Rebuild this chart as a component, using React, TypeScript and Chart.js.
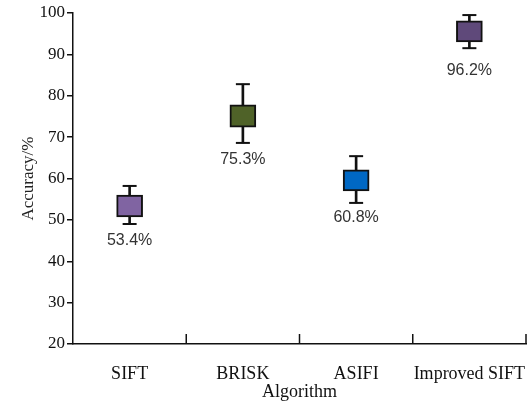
import React, { useEffect, useRef } from "react";
import { Chart, registerables } from "chart.js";

Chart.register(...registerables);

const categories = ["SIFT", "BRISK", "ASIFI", "Improved SIFT"];
const whiskerMin = [49.0, 68.6, 54.1, 91.5];
const whiskerMax = [58.2, 82.8, 65.4, 99.5];
const boxLow = [50.7, 72.4, 57.0, 93.0];
const boxHigh = [56.0, 77.8, 62.1, 98.1];
const valueLabels = ["53.4%", "75.3%", "60.8%", "96.2%"];
const labelAt = [45.1, 64.5, 50.5, 86.2];
const boxColors = ["#8064A2", "#4F6228", "#0068C4", "#5F497A"];
const yTicks = [20, 30, 40, 50, 60, 70, 80, 90, 100];

const serif = "'Liberation Serif', 'Times New Roman', serif";
const sans = "'Liberation Sans', Arial, sans-serif";

const extrasPlugin = {
  id: "extras",
  afterDatasetsDraw(chart: any) {
    const { ctx, scales } = chart;
    const x = scales.x;
    const y = scales.y;
    ctx.save();
    ctx.strokeStyle = "#111";
    ctx.lineWidth = 1.5;
    const y0 = y.getPixelForValue(20);
    for (let i = 1; i <= categories.length; i++) {
      const px = x.getPixelForValue(i - 0.5);
      ctx.beginPath();
      ctx.moveTo(px, y0);
      ctx.lineTo(px, y0 - 10);
      ctx.stroke();
    }
    ctx.fillStyle = "#333";
    ctx.font = `16px ${sans}`;
    ctx.textAlign = "center";
    ctx.textBaseline = "middle";
    valueLabels.forEach((t, i) => {
      ctx.fillText(t, x.getPixelForValue(i), y.getPixelForValue(labelAt[i]));
    });
    ctx.restore();
  },
};

export default function App() {
  const ref = useRef<HTMLCanvasElement | null>(null);
  useEffect(() => {
    document.body.style.margin = "0";
    const canvas = ref.current;
    if (!canvas) return;
    const chart = new Chart(canvas, {
      type: "bar",
      data: {
        labels: categories,
        datasets: [
          {
            type: "bar",
            data: boxLow.map((v, i) => [v, boxHigh[i]]) as any,
            backgroundColor: boxColors,
            borderColor: "#111",
            borderWidth: 2,
            borderSkipped: false,
            barThickness: 26,
            grouped: false,
          } as any,
          {
            type: "line",
            data: whiskerMax,
            showLine: false,
            pointStyle: "line",
            pointRadius: 7,
            borderColor: "#111",
            borderWidth: 2,
          } as any,
          {
            type: "line",
            data: whiskerMin,
            showLine: false,
            pointStyle: "line",
            pointRadius: 7,
            borderColor: "#111",
            borderWidth: 2,
          } as any,
          {
            type: "bar",
            data: whiskerMin.map((v, i) => [v, whiskerMax[i]]) as any,
            backgroundColor: "#111",
            borderWidth: 0,
            barThickness: 2,
            grouped: false,
          } as any,
        ],
      },
      options: {
        responsive: false,
        animation: false,
        layout: { autoPadding: false, padding: { left: 0, top: 13, right: 5, bottom: 0 } },
        plugins: { legend: { display: false }, tooltip: { enabled: false } },
        scales: {
          x: {
            offset: true,
            grid: { display: false },
            border: { display: true, color: "#111", width: 1.5 },
            ticks: { color: "#111", font: { family: serif, size: 18 }, padding: 11, maxRotation: 0, autoSkip: false },
            title: { display: true, text: "Algorithm", color: "#111", font: { family: serif, size: 18 }, padding: { top: 0, bottom: 4 } },
            afterFit: (s: any) => { s.height = 63; s.paddingLeft = 0; s.paddingRight = 0; },
          },
          y: {
            min: 20,
            max: 100,
            afterBuildTicks: (s: any) => { s.ticks = yTicks.map((v) => ({ value: v })); },
            grid: { drawOnChartArea: false, drawTicks: true, tickLength: 6, color: "#111", lineWidth: 1.5 },
            border: { display: true, color: "#111", width: 1.5 },
            ticks: { color: "#111", font: { family: serif, size: 17 }, padding: 2 },
            title: { display: true, text: "Accuracy/%", color: "#222", font: { family: serif, size: 17 }, padding: { top: 18, bottom: 0 } },
            afterFit: (s: any) => { s.width = 73; },
          },
        },
      },
      plugins: [extrasPlugin],
    });
    return () => chart.destroy();
  }, []);
  return (
    <div style={{ width: 531, height: 407 }}>
      <canvas ref={ref} width={531} height={407} style={{ display: "block" }} />
    </div>
  );
}
